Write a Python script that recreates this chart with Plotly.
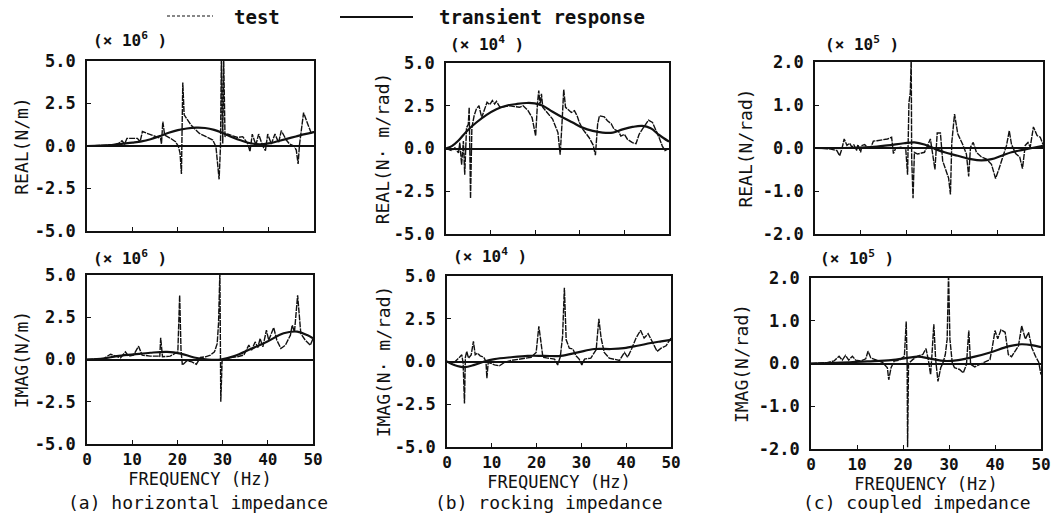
import plotly.graph_objects as go

# ---------------- data ----------------
# (a) horizontal impedance, units x10^6 N/m
a_re_test_f = [0, 3.7, 6.6, 7.7, 8.3, 8.8, 11.1, 11.7, 12.2, 16.2, 16.4, 16.7, 17.1, 18.4, 19.5, 20.1, 20.5, 20.8,
               21.1, 21.4, 22.9, 24.7, 25.8, 26.9, 27.7, 28.4, 29.1, 29.4, 29.6, 29.9, 30.1, 30.4, 31.0, 32.1, 33.2,
               34.3, 35.4, 35.9, 36.4, 37.2, 37.8, 38.7, 39.3, 39.8, 40.6, 41.4, 42.2, 42.8, 43.9, 44.6, 45.6, 46.1,
               46.5, 46.8, 47.7, 48.7, 49.4, 50.0]
a_re_test_v = [0.0, 0.04, 0.06, 0.31, 0.12, 0.45, 0.45, 0.25, 0.85, 0.45, 0.12, 1.43, 0.65, 0.45, 0.25, 0.0, -0.43,
               -1.65, 3.73, 1.83, 1.24, 0.75, 0.59, 0.45, 0.35, -0.04, -1.96, -0.04, 5.3, 0.15, 5.3, 0.55, 0.7, 0.6,
               0.5, 0.55, 0.15, -0.33, 0.7, 0.06, 0.7, 0.0, -0.27, 0.7, 0.12, 0.7, 0.2, 0.9, 0.35, 0.12, 0.0, -0.24,
               -1.06, 0.06, 1.96, 1.24, 0.75, 0.85]
a_re_tr_f = [0, 3, 5, 7, 10, 12, 14, 16, 18, 20, 22, 24, 26, 28, 30, 32, 34, 36, 38, 40, 42, 44, 46, 48, 50]
a_re_tr_v = [0.0, 0.02, 0.05, 0.12, 0.2, 0.27, 0.4, 0.58, 0.78, 0.93, 1.03, 1.08, 1.06, 0.95, 0.75, 0.52, 0.32,
             0.16, 0.1, 0.15, 0.28, 0.42, 0.56, 0.7, 0.82]

a_im_test_f = [0, 3.7, 5.2, 6.3, 7.4, 8.5, 9.2, 10.3, 11.4, 12.2, 14.0, 15.9, 16.1, 16.3, 16.7, 18.4, 20.1, 20.5,
               20.8, 21.1, 22.1, 23.2, 24.2, 25.1, 26.2, 27.3, 28.2, 28.8, 29.1, 29.4, 29.5, 29.6, 29.9, 30.6, 31.7,
               33.2, 34.7, 35.8, 36.4, 37.2, 37.8, 38.3, 38.9, 39.7, 40.2, 41.3, 42.0, 42.9, 43.9, 45.0, 45.4, 45.9,
               46.6, 47.3, 48.3, 49.4, 50.0]
a_im_test_v = [0.0, 0.06, 0.31, 0.2, 0.1, 0.45, 0.2, 0.26, 0.79, 0.26, 0.2, 0.2, 0.16, 1.28, 0.16, 0.2, 0.45, 3.8,
               0.55, -0.33, -0.08, -0.14, -0.28, 0.12, 0.16, 0.26, 0.45, 0.94, 2.13, 5.2, 0.0, -2.5, 0.0, -0.04, 0.12,
               0.16, 0.26, 0.85, 0.55, 1.04, 0.71, 1.24, 0.75, 1.73, 1.14, 1.89, 1.14, 0.65, 0.85, 1.44, 2.03, 1.63,
               3.8, 1.54, 1.14, 0.85, 1.24]
a_im_tr_f = [0, 3.7, 6.6, 10.3, 14.0, 17.7, 20.7, 23.7, 26.7, 29.6, 32.6, 36.1, 39.8, 43.5, 46.5, 48.7, 50.0]
a_im_tr_v = [0.0, 0.06, 0.2, 0.3, 0.4, 0.45, 0.35, 0.12, 0.0, 0.0, 0.2, 0.6, 1.05, 1.55, 1.65, 1.45, 1.25]

# (b) rocking impedance, units x10^4 N.m/rad
b_re_test_f = [0, 1.3, 2.0, 2.8, 3.1, 3.5, 3.9, 4.2, 4.6, 5.0, 5.2, 5.5, 5.8, 6.3, 6.8, 7.4, 8.0, 8.7, 9.2, 9.8,
               10.4, 10.9, 11.3, 12.1, 13.2, 14.3, 15.4, 16.5, 17.3, 18.4, 19.3, 20.1, 20.5, 20.8, 21.1, 21.4, 21.7,
               22.8, 23.9, 25.1, 25.6, 26.0, 26.4, 26.8, 27.3, 28.1, 28.8, 29.4, 29.9, 30.7, 32.1, 33.0, 33.5, 34.0,
               34.4, 35.5, 36.2, 37.0, 37.7, 38.7, 39.2, 40.0, 40.7, 41.8, 42.6, 43.3, 44.0, 45.4, 46.3, 47.0, 47.8,
               48.5, 49.1, 50.0]
b_re_test_v = [0.0, -0.12, 0.04, -0.26, 0.34, -0.95, 0.43, -1.54, 1.22, 1.42, 2.41, -2.92, 1.22, 1.91, 2.31, 2.5,
               1.81, 2.41, 2.7, 2.56, 2.8, 2.6, 2.76, 2.41, 2.45, 2.5, 2.45, 2.41, 2.5, 2.21, 1.81, 0.73, 2.6, 3.39,
               2.5, 3.2, 2.41, 2.05, 1.72, 0.93, -0.36, 1.42, 3.45, 2.41, 2.31, 2.11, 2.21, 1.91, 1.52, 1.12, 0.63,
               0.2, -0.39, 1.42, 1.91, 1.85, 1.62, 1.46, 1.12, 0.99, 0.73, 0.83, 0.53, 0.34, 0.28, 0.83, 1.12, 1.66,
               1.52, 1.12, 0.63, 0.14, -0.12, 0.0]
b_re_tr_f = [0, 1.3, 2.8, 4.6, 6.8, 9.1, 11.3, 13.5, 15.8, 18.0, 19.9, 21.7, 23.9, 26.2, 28.4, 30.6, 32.9, 35.1,
             37.4, 39.6, 41.8, 44.0, 45.9, 47.8, 50.0]
b_re_tr_v = [0.0, 0.14, 0.47, 1.0, 1.52, 1.97, 2.3, 2.5, 2.6, 2.66, 2.64, 2.5, 2.15, 1.81, 1.52, 1.22, 1.03, 0.93,
             0.93, 1.12, 1.26, 1.32, 1.18, 0.79, 0.4]

b_im_test_f = [0, 1.6, 2.8, 3.3, 3.6, 3.9, 4.1, 4.4, 4.8, 5.4, 5.9, 6.3, 6.8, 7.4, 8.2, 8.7, 8.9, 9.2, 9.8, 10.6,
               11.7, 12.8, 14.3, 16.5, 18.8, 19.9, 20.5, 21.0, 21.4, 22.5, 24.0, 24.7, 25.3, 25.8, 26.2, 26.6, 27.3,
               28.1, 28.8, 29.5, 30.1, 30.7, 32.1, 33.3, 33.9, 34.4, 35.1, 36.2, 37.4, 38.5, 39.6, 40.3, 41.2, 42.2,
               43.2, 44.0, 44.9, 45.9, 46.9, 47.8, 48.9, 50.0]
b_im_test_v = [0.0, -0.06, 0.25, 0.39, -0.1, -2.45, 0.25, 0.59, 0.2, 0.39, 1.18, 0.39, 0.49, 0.33, 0.25, 0.0, -0.98,
               -0.06, -0.1, -0.2, -0.25, -0.06, 0.06, 0.14, 0.25, 0.53, 2.06, 1.08, 0.25, 0.2, 0.14, -0.2, 0.29, 1.47,
               4.31, 1.27, 0.78, 0.73, 0.33, 0.14, -0.2, 0.14, 0.2, 0.69, 2.49, 1.37, 0.53, 0.2, 0.14, 0.06, 0.53,
               0.25, 0.73, 1.37, 1.82, 1.37, 1.63, 1.12, 0.59, 0.78, 0.92, 1.37]
b_im_tr_f = [0, 1.6, 3.9, 6.1, 8.3, 10.6, 14.3, 18.0, 21.7, 25.4, 29.2, 32.9, 36.6, 39.5, 42.5, 45.5, 47.8, 50.0]
b_im_tr_v = [0.0, -0.2, -0.33, -0.2, 0.0, 0.14, 0.25, 0.33, 0.33, 0.33, 0.53, 0.73, 0.73, 0.78, 0.92, 1.08, 1.18,
             1.27]

# (c) coupled impedance, units x10^5 N/rad
c_re_test_f = [0, 3.3, 4.8, 5.4, 5.9, 6.4, 7.0, 7.6, 8.1, 8.5, 9.1, 9.4, 10.0, 10.3, 10.9, 11.4, 12.2, 12.8, 13.6,
               14.7, 15.9, 16.8, 17.2, 17.7, 18.8, 19.9, 20.3, 20.6, 20.9, 21.1, 21.2, 21.5, 21.8, 22.5, 24.0, 24.7,
               25.3, 25.8, 26.3, 26.8, 27.5, 28.0, 28.8, 29.3, 29.7, 30.0, 30.6, 31.3, 32.4, 33.2, 33.7, 34.1, 34.7,
               35.4, 36.5, 37.6, 38.7, 39.6, 40.3, 41.1, 42.0, 42.6, 43.1, 44.0, 44.9, 45.5, 46.1, 46.7, 47.2, 47.9,
               48.7, 49.4, 50.0]
c_re_test_v = [0.0, -0.02, -0.06, -0.18, -0.02, 0.21, 0.06, 0.11, 0.02, 0.08, -0.06, 0.08, -0.1, 0.06, 0.08, 0.02,
               0.0, 0.16, 0.17, 0.19, 0.21, 0.25, -0.13, 0.0, 0.02, -0.02, -0.62, 1.05, 1.29, 2.1, -0.22, -1.17, -0.1,
               -0.14, -0.1, 0.06, 0.21, -0.14, -0.5, 0.35, 0.35, -0.3, -0.58, -0.7, -1.08, 0.13, 0.79, 0.33, 0.08,
               -0.14, -0.66, 0.02, 0.13, -0.1, -0.21, -0.26, -0.38, -0.71, -0.5, -0.22, 0.06, 0.4, 0.08, -0.13, -0.21,
               -0.48, 0.06, 0.13, 0.02, 0.49, 0.29, 0.25, 0.08]
c_re_tr_f = [0, 6.3, 12.2, 15.9, 19.5, 21.8, 24.0, 26.3, 28.4, 31.3, 34.2, 36.5, 38.7, 40.9, 43.1, 45.3, 47.6, 50.0]
c_re_tr_v = [0.0, 0.0, 0.02, 0.06, 0.11, 0.13, 0.08, -0.02, -0.1, -0.18, -0.26, -0.29, -0.26, -0.18, -0.1, -0.05,
             0.0, 0.05]

c_im_test_f = [0, 3.5, 5.0, 6.1, 6.8, 7.5, 8.2, 9.0, 9.7, 10.8, 11.9, 12.4, 13.0, 14.1, 15.5, 16.6, 16.9, 17.4,
               18.1, 19.2, 20.3, 20.7, 20.9, 21.0, 21.2, 22.1, 23.2, 24.3, 25.0, 25.5, 26.0, 26.3, 26.7, 27.1, 27.6,
               28.2, 28.7, 29.2, 29.6, 29.9, 30.2, 30.7, 31.2, 32.3, 33.1, 33.8, 34.3, 34.7, 35.6, 36.7, 37.8, 38.9,
               39.4, 40.0, 40.6, 41.3, 42.2, 42.9, 43.6, 44.4, 45.1, 45.8, 46.6, 47.3, 48.0, 48.8, 49.5, 50.0]
c_im_test_v = [0.0, 0.02, 0.06, 0.17, 0.08, 0.19, 0.08, 0.17, 0.08, 0.06, 0.11, 0.29, 0.13, 0.08, 0.03, -0.1, -0.38,
               -0.1, 0.06, 0.08, 0.17, 0.98, 0.0, -1.96, 0.0, 0.09, 0.17, 0.21, 0.35, 0.09, -0.26, 0.21, 0.92, 0.09,
               -0.42, -0.1, 0.02, 0.21, 0.57, 2.1, 0.57, 0.02, -0.1, -0.14, -0.22, -0.02, 0.77, -0.02, -0.08, -0.02,
               0.03, 0.09, 0.37, 0.77, 0.58, 0.79, 0.73, 0.21, 0.16, 0.29, 0.41, 0.88, 0.57, 0.73, 0.37, 0.17, 0.03,
               -0.26]
c_im_tr_f = [0, 6.4, 12.3, 17.4, 21.0, 23.2, 26.1, 29.1, 32.0, 35.6, 39.3, 42.9, 45.7, 48.0, 50.0]
c_im_tr_v = [0.0, 0.02, 0.05, 0.08, 0.13, 0.16, 0.11, 0.06, 0.08, 0.16, 0.27, 0.4, 0.45, 0.43, 0.38]

x_ticks = [0, 10, 20, 30, 40, 50]
x_ticktext = ["0", "10", "20", "30", "40", "50"]
y_ticks_ab = [-5.0, -2.5, 0.0, 2.5, 5.0]
y_ticktext_ab = ["-5.0", "-2.5", "0.0", "2.5", "5.0"]
y_ticks_c = [-2.0, -1.0, 0.0, 1.0, 2.0]
y_ticktext_c = ["-2.0", "-1.0", "0.0", "1.0", "2.0"]

y_titles = ["REAL(N/m)", "IMAG(N/m)", "REAL(N· m/rad)", "IMAG(N· m/rad)", "REAL(N/rad)", "IMAG(N/rad)"]
scale_labels = ["(× 10<sup>6</sup> )", "(× 10<sup>6</sup> )", "(× 10<sup>4</sup> )", "(× 10<sup>4</sup> )",
                "(× 10<sup>5</sup> )", "(× 10<sup>5</sup> )"]
captions = ["(a) horizontal impedance", "(b) rocking impedance", "(c) coupled impedance"]
legend_names = ["test", "transient response"]

# ---------------- layout helpers ----------------
W, H = 1054, 523
FONT = "DejaVu Sans Mono"
INK = "#111111"


def px_x(p):
    return p / W


def px_y(p):
    return 1 - p / H


# plot-area boxes in pixels (left, right, top, bottom)
boxes = [
    (87, 314, 61, 231), (87, 313, 275, 444),
    (446, 669, 63, 234), (447, 671, 276, 447),
    (815, 1043, 62, 234), (811, 1041, 278, 449),
]
title_standoffs = [2, 2, 0, 0, 6, 6]

series = [
    (a_re_test_f, a_re_test_v, a_re_tr_f, a_re_tr_v),
    (a_im_test_f, a_im_test_v, a_im_tr_f, a_im_tr_v),
    (b_re_test_f, b_re_test_v, b_re_tr_f, b_re_tr_v),
    (b_im_test_f, b_im_test_v, b_im_tr_f, b_im_tr_v),
    (c_re_test_f, c_re_test_v, c_re_tr_f, c_re_tr_v),
    (c_im_test_f, c_im_test_v, c_im_tr_f, c_im_tr_v),
]

fig = go.Figure()
layout = {}
for i, (box, (tf, tv, rf, rv)) in enumerate(zip(boxes, series)):
    n = i + 1
    sfx = "" if n == 1 else str(n)
    xa, ya = "x" + sfx, "y" + sfx
    fig.add_trace(go.Scatter(x=tf, y=tv, mode="lines", xaxis=xa, yaxis=ya, name=legend_names[0],
                             showlegend=False, line=dict(color=INK, width=1.4, dash="6px,1px")))
    fig.add_trace(go.Scatter(x=rf, y=rv, mode="lines", xaxis=xa, yaxis=ya, name=legend_names[1],
                             showlegend=False, line=dict(color=INK, width=2.2, shape="spline", smoothing=1.0)))
    l, r, t, b = box
    bottom_row = (n % 2 == 0)
    is_c = n >= 5
    xaxis = dict(domain=[px_x(l), px_x(r)], range=[0, 50], anchor=ya, showgrid=False, zeroline=False,
                 automargin=False,
                 showline=True, linecolor=INK, linewidth=1.6, mirror=True,
                 ticks="inside", ticklen=4, tickcolor=INK, tickvals=x_ticks, ticktext=x_ticktext,
                 showticklabels=bottom_row,
                 tickfont=dict(family=FONT, size=16, color=INK, weight="bold"))
    if bottom_row:
        xaxis["title"] = dict(text="FREQUENCY (Hz)", font=dict(family=FONT, size=17, color=INK), standoff=4)
    yaxis = dict(domain=[px_y(b), px_y(t)], range=[-2, 2] if is_c else [-5, 5], anchor=xa, showgrid=False,
                 automargin=False,
                 zeroline=True, zerolinecolor=INK, zerolinewidth=2,
                 showline=True, linecolor=INK, linewidth=1.6, mirror=True,
                 ticks="inside", ticklen=4, tickcolor=INK,
                 tickvals=y_ticks_c if is_c else y_ticks_ab,
                 ticktext=y_ticktext_c if is_c else y_ticktext_ab,
                 ticklabelstandoff=6,
                 tickfont=dict(family=FONT, size=17, color=INK, weight="bold"),
                 title=dict(text=y_titles[i], font=dict(family=FONT, size=18, color=INK),
                            standoff=title_standoffs[i]))
    layout["xaxis" + sfx] = xaxis
    layout["yaxis" + sfx] = yaxis

annotations = []
# scale labels above each panel
scale_pos = [(130, 40), (130, 257), (487, 43), (490, 255), (862, 43), (857, 257)]
for txt, (cx, cy) in zip(scale_labels, scale_pos):
    annotations.append(dict(text=txt, x=px_x(cx), y=px_y(cy), xref="paper", yref="paper", showarrow=False,
                            xanchor="center", yanchor="middle",
                            font=dict(family=FONT, size=16, color=INK, weight="bold")))
# captions
cap_pos = [(198, 502), (549, 502), (917, 502)]
for txt, (cx, cy) in zip(captions, cap_pos):
    annotations.append(dict(text=txt, x=px_x(cx), y=px_y(cy), xref="paper", yref="paper", showarrow=False,
                            xanchor="center", yanchor="middle",
                            font=dict(family=FONT, size=18, color=INK)))
# legend (drawn as key lines + labels)
annotations.append(dict(text=legend_names[0], x=px_x(232), y=px_y(17), xref="paper", yref="paper",
                        showarrow=False, xanchor="left", yanchor="middle",
                        font=dict(family=FONT, size=19, color=INK, weight="bold")))
annotations.append(dict(text=legend_names[1], x=px_x(437), y=px_y(17), xref="paper", yref="paper",
                        showarrow=False, xanchor="left", yanchor="middle",
                        font=dict(family=FONT, size=19, color=INK, weight="bold")))
shapes = [
    dict(type="line", xref="paper", yref="paper", x0=px_x(167), x1=px_x(213), y0=px_y(16), y1=px_y(16),
         line=dict(color=INK, width=1.2, dash="3px,2px")),
    dict(type="line", xref="paper", yref="paper", x0=px_x(340), x1=px_x(413), y0=px_y(17), y1=px_y(17),
         line=dict(color=INK, width=2)),
]

fig.update_layout(width=W, height=H, margin=dict(l=0, r=0, t=0, b=0, pad=0, autoexpand=False),
                  paper_bgcolor="white", plot_bgcolor="white", showlegend=False,
                  annotations=annotations, shapes=shapes, **layout)

# remove the browser's default page margin so the figure fills the window exactly
fig.write_html("out.html", config={"displayModeBar": False},
               post_script="document.body.style.margin='0';document.body.style.overflow='hidden';")
